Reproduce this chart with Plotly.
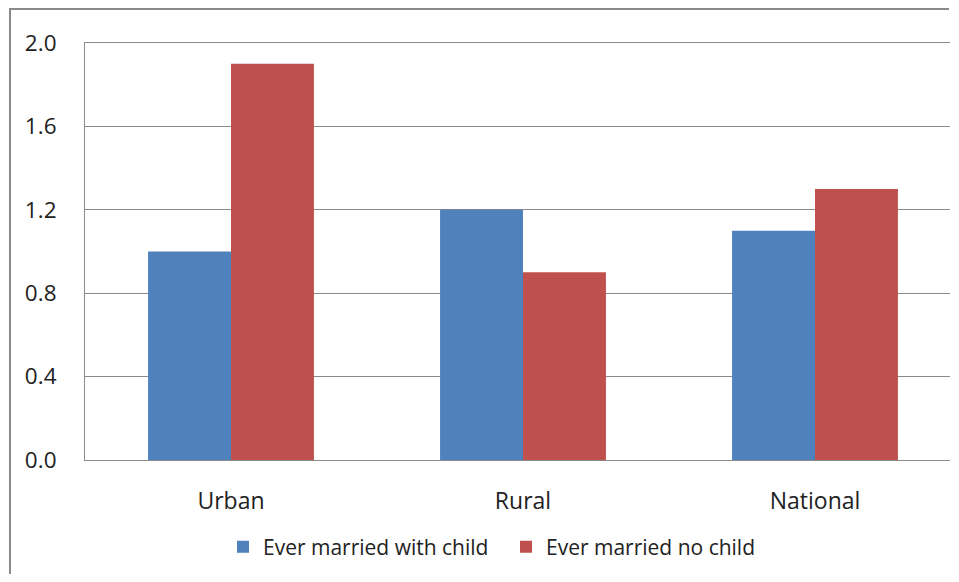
import plotly.graph_objects as go

categories = ["Urban", "Rural", "National"]
with_child = [1.0, 1.2, 1.1]
no_child = [1.9, 0.9, 1.3]
y_ticks = [0.0, 0.4, 0.8, 1.2, 1.6, 2.0]

# page body has an 8px margin and the visible page ends near x=950
OFF = 8
VIS_R = 950
W, H = VIS_R - OFF, 582 - 2 * OFF
# plot area in screen coordinates (reference)
SL, ST, SR, SB = 85, 43, VIS_R, 460
CAT_PX = 292  # pixels per category band in the reference
L, T = SL - OFF, ST - OFF
R = (OFF + W) - SR
B = (OFF + H) - SB
pw = SR - SL
ph = SB - ST


def px_x(p):
    return (p - SL) / pw


def px_y(p):
    return (SB - p) / ph


fig = go.Figure()
fig.add_trace(go.Bar(x=categories, y=with_child, name="Ever married with child",
                     marker=dict(color="#4F81BD", line=dict(width=0))))
fig.add_trace(go.Bar(x=categories, y=no_child, name="Ever married no child",
                     marker=dict(color="#C0504D", line=dict(width=0))))

# outer chart frame (top and left edges; the rest runs off the picture)
frame = dict(color="#8a8a8a", width=2)
fig.add_shape(type="line", xref="paper", yref="paper",
              x0=px_x(9), x1=px_x(VIS_R - 1), y0=px_y(9), y1=px_y(9), line=frame, layer="below")
fig.add_shape(type="line", xref="paper", yref="paper",
              x0=px_x(10), x1=px_x(10), y0=px_y(8), y1=px_y(OFF + H), line=frame, layer="below")

fig.update_layout(
    width=W, height=H,
    margin=dict(l=L, r=R, t=T, b=B, pad=0, autoexpand=False),
    paper_bgcolor="white", plot_bgcolor="white",
    barmode="group", bargap=0.432, bargroupgap=0,
    font=dict(family="Open Sans", color="#222222", size=22),
    showlegend=True,
    legend=dict(orientation="h", x=px_x(223), xanchor="left", y=px_y(547), yanchor="middle",
                font=dict(family="Open Sans", size=21, color="#222222"),
                entrywidth=238, entrywidthmode="pixels", itemwidth=30,
                bgcolor="rgba(0,0,0,0)", borderwidth=0),
)
fig.update_xaxes(type="category", range=[-0.5, -0.5 + pw / CAT_PX], showgrid=False,
                 showline=True, mirror=True, linecolor="#8a8a8a", linewidth=1,
                 ticks="", ticklabelstandoff=20, tickfont=dict(size=23))
fig.update_yaxes(range=[0, 2.0], tickvals=y_ticks, ticktext=[f"{v:.1f}" for v in y_ticks],
                 showgrid=True, gridcolor="#8a8a8a", gridwidth=1,
                 showline=True, linecolor="#8a8a8a", linewidth=1, zeroline=False,
                 ticks="", ticklabelstandoff=23, tickfont=dict(size=22.5))

fig.write_html("out.html")
